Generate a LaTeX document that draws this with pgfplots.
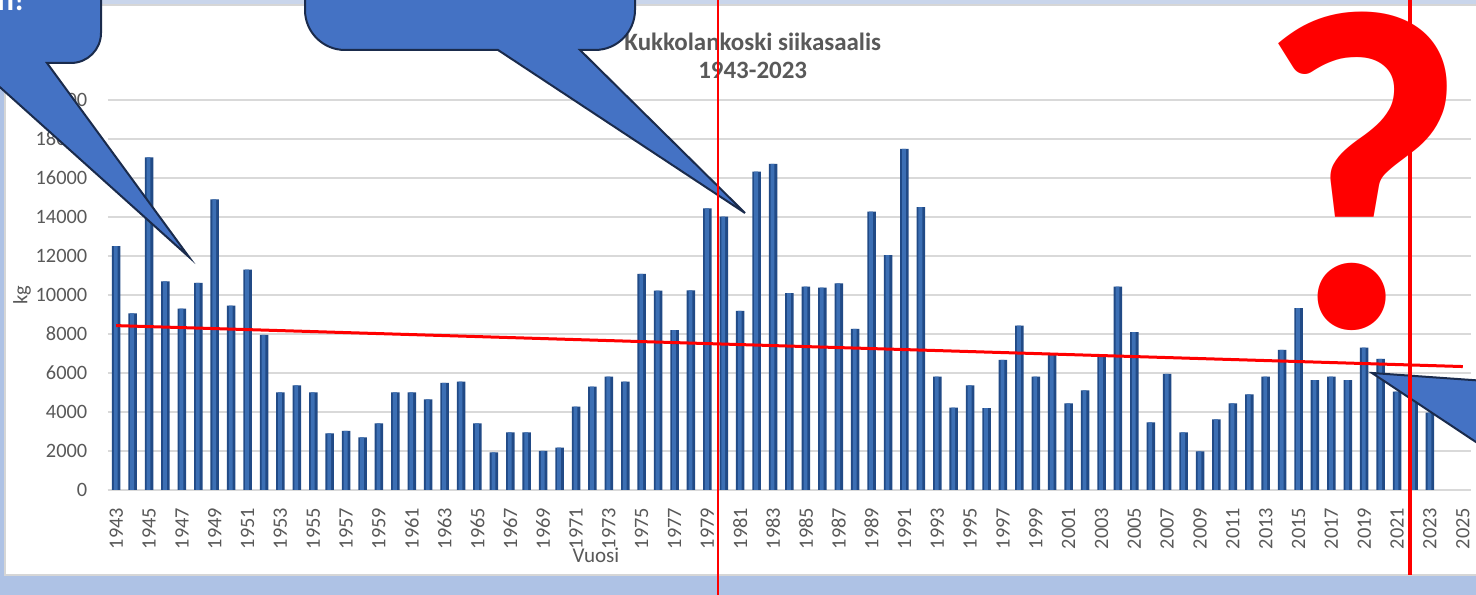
\documentclass[border=0pt]{standalone}
\usepackage{pgfplots}
\pgfplotsset{compat=1.18}
\usepackage{pgfplotstable}
\usepackage{fontspec}
\setmainfont{Carlito}
\definecolor{bgblue}{HTML}{AEC2E5}
\definecolor{topblue}{HTML}{C9D5EB}
\definecolor{framegray}{HTML}{D6D6D6}
\definecolor{gridgray}{HTML}{D9D9D9}
\definecolor{txtgray}{HTML}{595959}
\definecolor{bardark}{HTML}{214A86}
\definecolor{barlight}{HTML}{3C6FB4}
\definecolor{callfill}{HTML}{4472C4}
\definecolor{calldraw}{HTML}{1A2B4C}
\definecolor{qred}{HTML}{FF0000}

\pgfplotstableread{
year kg
1943 12500
1944 9060
1945 17060
1946 10700
1947 9300
1948 10620
1949 14900
1950 9450
1951 11300
1952 7950
1953 5000
1954 5370
1955 5000
1956 2900
1957 3030
1958 2700
1959 3420
1960 5000
1961 5000
1962 4650
1963 5490
1964 5560
1965 3420
1966 1930
1967 2960
1968 2960
1969 2000
1970 2170
1971 4270
1972 5300
1973 5810
1974 5560
1975 11080
1976 10220
1977 8200
1978 10240
1979 14440
1980 14020
1981 9180
1982 16320
1983 16720
1984 10090
1985 10430
1986 10380
1987 10600
1988 8260
1989 14270
1990 12050
1991 17490
1992 14500
1993 5810
1994 4220
1995 5370
1996 4200
1997 6670
1998 8430
1999 5810
2000 6920
2001 4440
2002 5110
2003 6970
2004 10430
2005 8090
2006 3470
2007 5950
2008 2960
2009 1980
2010 3620
2011 4440
2012 4900
2013 5810
2014 7180
2015 9320
2016 5640
2017 5810
2018 5640
2019 7300
2020 6720
2021 5040
2022 5200
2023 3970
}\catchdata

\begin{document}
\begin{tikzpicture}[x=0.1mm,y=0.1mm]
\useasboundingbox (0,0) rectangle (1476,595);
\clip (0,0) rectangle (1476,595);
% background and frame
\fill[bgblue] (0,0) rectangle (1476,595);
\fill[topblue] (0,589) rectangle (1476,595);
\filldraw[fill=white, draw=framegray, line width=0.2mm] (5,20) rectangle (1490,590);

\begin{axis}[
  at={(10.8mm,10.5mm)}, anchor=south west,
  scale only axis, width=136.3mm, height=39mm,
  xmin=1942.5, xmax=2025.5, ymin=0, ymax=20000,
  xtick={1943,1945,...,2025},
  ytick={0,2000,...,20000},
  scaled y ticks=false, scaled x ticks=false,
  /pgf/number format/.cd, 1000 sep={}, assume math mode=true, /pgfplots/.cd,
  major tick length=0pt,
  axis x line*=bottom, axis y line*=left,
  x axis line style={draw=gridgray, line width=0.15mm},
  y axis line style={draw=none},
  ymajorgrids, grid style={draw=gridgray, line width=0.15mm},
  tick label style={font=\fontsize{5.8}{7}\selectfont, text=txtgray},
  xticklabel style={rotate=90, anchor=east, inner sep=0pt},
  xticklabel shift=1.7mm,
  yticklabel style={anchor=east, inner sep=0pt},
  yticklabel shift=2mm,
  title={Kukkolankoski siikasaalis\\1943-2023},
  title style={at={(axis description cs:0.473,1)}, anchor=center, yshift=2.3mm,
    align=center, font=\fontsize{7.1}{8.2}\selectfont\bfseries, text=txtgray},
  xlabel={Vuosi},
  xlabel style={at={(axis description cs:0.358,0)}, anchor=center, yshift=-6.5mm,
    font=\fontsize{6}{7}\selectfont, text=txtgray},
  ylabel={kg},
  ylabel style={at={(axis description cs:-0.063,0.5)}, anchor=center,
    font=\fontsize{5.8}{7}\selectfont, text=txtgray},
]
\addplot[ybar, bar width=0.85mm, bar shift=0pt, draw=none, fill=bardark]
  table[x=year, y=kg] {\catchdata};
\addplot[ybar, bar width=0.38mm, bar shift=-0.05mm, draw=none, fill=barlight]
  table[x=year, y=kg] {\catchdata};
\addplot[sharp plot, draw=qred, line width=0.3mm, mark=none]
  coordinates {(1943,8430) (2025,6330)};
\end{axis}

% callouts
\tikzset{callout/.style={fill=callfill, draw=calldraw, line width=0.2mm, line join=miter}}
\draw[callout] (-60,620) -- (-60,532) -- (-27,532) -- (189,338) -- (47,532) -- (71,532)
  arc[start angle=-90, end angle=0, radius=30] -- (101,620) -- cycle;
\node[anchor=base east, text=white, inner sep=0pt] at (25,584)
  {\fontsize{9}{9}\selectfont\bfseries n!};
\draw[callout] (305,650) -- (305,585) arc[start angle=180, end angle=270, radius=40]
  -- (498,545) -- (745,382) -- (580,545) -- (595,545)
  arc[start angle=-90, end angle=0, radius=40] -- (635,650) -- cycle;
\draw[callout] (1372,222) -- (1500,213) -- (1500,137) -- cycle;

% question mark
\node[anchor=base, text=qred, inner sep=0pt] at (1362,267)
  {\fontsize{130}{130}\selectfont\bfseries ?};

% red vertical lines
\draw[qred, line width=0.25mm] (718,0) -- (718,595);
\draw[qred, line width=0.4mm] (1410,20) -- (1410,595);
\end{tikzpicture}
\end{document}
